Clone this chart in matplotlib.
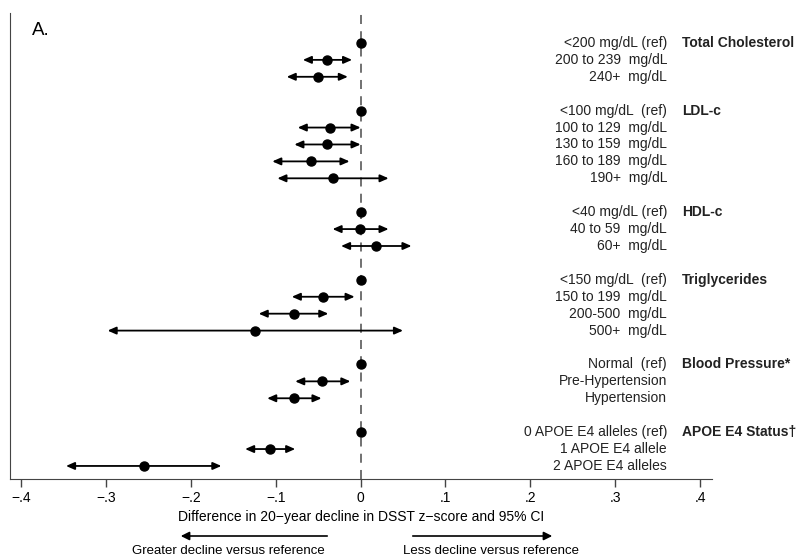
import matplotlib
matplotlib.use('Agg')
import matplotlib.pyplot as plt

plt.rcParams['font.family'] = ['Liberation Sans', 'DejaVu Sans']

# groups, category labels and estimates (difference and 95% CI)
grupos = ['Total Cholesterol', 'LDL-c', 'HDL-c', 'Triglycerides', 'Blood Pressure*', 'APOE E4 Status†']
categorias = [
    ['<200 mg/dL (ref)', '200 to 239  mg/dL', '240+  mg/dL'],
    ['<100 mg/dL  (ref)', '100 to 129  mg/dL', '130 to 159  mg/dL', '160 to 189  mg/dL', '190+  mg/dL'],
    ['<40 mg/dL (ref)', '40 to 59  mg/dL', '60+  mg/dL'],
    ['<150 mg/dL  (ref)', '150 to 199  mg/dL', '200-500  mg/dL', '500+  mg/dL'],
    ['Normal  (ref)', 'Pre-Hypertension', 'Hypertension'],
    ['0 APOE E4 alleles (ref)', '1 APOE E4 allele', '2 APOE E4 alleles'],
]
estimativa = [
    [0, -0.039, -0.050],
    [0, -0.036, -0.039, -0.058, -0.033],
    [0, -0.001, 0.018],
    [0, -0.044, -0.079, -0.124],
    [0, -0.045, -0.079],
    [0, -0.107, -0.255],
]
ic_inf = [
    [None, -0.068, -0.087],
    [None, -0.074, -0.078, -0.104, -0.098],
    [None, -0.033, -0.023],
    [None, -0.081, -0.120, -0.298],
    [None, -0.077, -0.110],
    [None, -0.136, -0.347],
]
ic_sup = [
    [None, -0.010, -0.015],
    [None, 0.000, 0.000, -0.013, 0.033],
    [None, 0.033, 0.060],
    [None, -0.007, -0.038, 0.050],
    [None, -0.012, -0.046],
    [None, -0.077, -0.164],
]
ticks = [-0.4, -0.3, -0.2, -0.1, 0, 0.1, 0.2, 0.3, 0.4]
ticks_rotulos = ['−.4', '−.3', '−.2', '−.1', '0', '.1', '.2', '.3', '.4']

fig = plt.figure(figsize=(8, 5.58), dpi=100)
ax = fig.add_axes([0.0125, 0.1416, 0.8775, 0.8351])

linha = 0
for g in range(len(grupos)):
    for i in range(len(categorias[g])):
        y = linha
        if ic_inf[g][i] is not None:
            ax.annotate('', xy=(ic_inf[g][i], y), xytext=(ic_sup[g][i], y),
                        arrowprops=dict(arrowstyle='<|-|>,head_length=0.5,head_width=0.22',
                                        color='black', lw=1.3, shrinkA=0, shrinkB=0))
        ax.plot(estimativa[g][i], y, 'o', color='black', markersize=6.5, zorder=5)
        ax.text(0.361, y, categorias[g][i], ha='right', va='center', fontsize=10, color='#222222')
        if i == 0:
            ax.text(0.379, y, grupos[g], ha='left', va='center', fontsize=10,
                    fontweight='bold', color='#222222')
        linha += 1
    linha += 1

ax.axvline(0, color='#666666', lw=1.3, linestyle=(0, (5, 4)), zorder=1)

ax.set_xlim(-0.413, 0.414)
ax.set_ylim(25.77, -1.77)
ax.set_yticks([])
ax.set_xticks(ticks)
ax.set_xticklabels(ticks_rotulos, fontsize=10)
ax.tick_params(axis='x', direction='out', length=6, width=1, color='#444444', pad=3)
ax.spines['top'].set_visible(False)
ax.spines['right'].set_visible(False)
ax.spines['left'].set_color('#444444')
ax.spines['bottom'].set_color('#444444')
ax.set_xlabel('Difference in 20−year decline in DSST z−score and 95% CI', fontsize=10, labelpad=3)

ax.text(0.032, 0.98, 'A.', transform=ax.transAxes, fontsize=13.5, va='top', ha='left')

# setas de interpretacao abaixo do eixo
fig.add_artist(matplotlib.patches.FancyArrowPatch(
    (330 / 800, 1 - 536 / 558), (178 / 800, 1 - 536 / 558), transform=fig.transFigure,
    arrowstyle='-|>,head_length=5,head_width=2.5', color='black', lw=1.2))
fig.add_artist(matplotlib.patches.FancyArrowPatch(
    (410 / 800, 1 - 536 / 558), (555 / 800, 1 - 536 / 558), transform=fig.transFigure,
    arrowstyle='-|>,head_length=5,head_width=2.5', color='black', lw=1.2))
fig.text(228 / 800, 1 - 551 / 558, 'Greater decline versus reference', ha='center', va='center', fontsize=9.5)
fig.text(491 / 800, 1 - 551 / 558, 'Less decline versus reference', ha='center', va='center', fontsize=9.5)

fig.savefig('out.png', dpi=100)
